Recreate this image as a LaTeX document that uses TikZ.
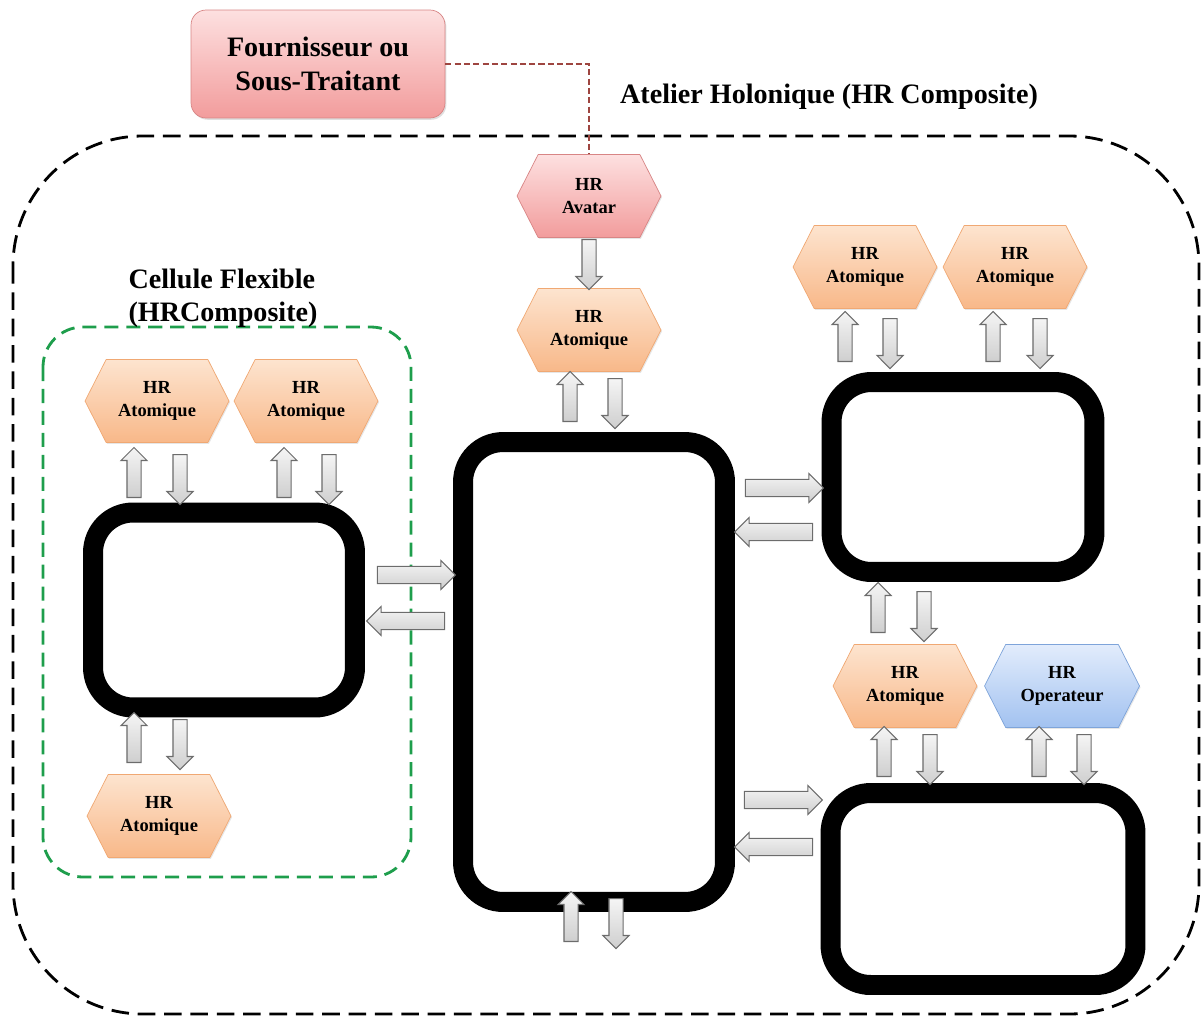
\documentclass[tikz,border=0pt]{standalone}
\usepackage{fontspec}
\setmainfont{Liberation Serif}
\usetikzlibrary{shapes.symbols,shapes.arrows,shadows}

\definecolor{peachtop}{HTML}{FDE4CF}
\definecolor{peachbot}{HTML}{F8B889}
\definecolor{peachline}{HTML}{F0A873}
\definecolor{rosetop}{HTML}{FDE0E0}
\definecolor{rosebot}{HTML}{F29C9C}
\definecolor{roseline}{HTML}{D88585}
\definecolor{bluetop}{HTML}{E2ECFC}
\definecolor{bluebot}{HTML}{A2C2F0}
\definecolor{blueline}{HTML}{7EA4DA}
\definecolor{grenat}{HTML}{9E4540}
\definecolor{vertcellule}{HTML}{1E9E4C}

\tikzset{
  hr/.style={signal, signal to=east and west, signal pointer angle=126,
    minimum width=2.88cm, minimum height=1.66cm, inner sep=0pt, align=center,
    font=\bfseries\fontsize{10.5}{13}\selectfont,
    drop shadow={opacity=0.2, shadow xshift=0.6pt, shadow yshift=-0.8pt}},
  atomique/.style={hr, draw=peachline, top color=peachtop, bottom color=peachbot},
  avatar/.style={hr, draw=roseline, top color=rosetop, bottom color=rosebot},
  operateur/.style={hr, draw=blueline, top color=bluetop, bottom color=bluebot},
  bloc/.style={draw=black, line width=0.4cm, rounded corners=0.8cm, fill=white, inner sep=0pt},
  fleche/.style={single arrow, draw=gray!85!black, top color=gray!8, bottom color=gray!38,
    single arrow head indent=0pt, inner xsep=0pt, line width=0.6pt},
  vfleche/.style={fleche, minimum height=1cm, inner ysep=3.7pt, single arrow head extend=3.4pt},
  hfleche/.style={fleche, minimum height=1.56cm, inner ysep=4.6pt, single arrow head extend=3.3pt},
  titre/.style={font=\bfseries\fontsize{16}{19}\selectfont, inner sep=0pt}
}

\begin{document}
\begin{tikzpicture}[x=0.02cm, y=-0.02cm]
\useasboundingbox (0,0) rectangle (1203,1018);

% atelier (HR composite)
\draw[black, line width=1.6pt, dash pattern=on 10pt off 5pt, rounded corners=2.6cm]
  (13,136) rectangle (1199,1014);
\node[titre] (atelier) at (829,97) {Atelier Holonique (HR Composite)};

% cellule flexible
\draw[vertcellule, line width=1.6pt, dash pattern=on 8pt off 4.5pt, rounded corners=0.8cm]
  (43,327) rectangle (411,877);
\node[titre, align=left] (cellule) at (223,298) {Cellule Flexible\\(HRComposite)};

% fournisseur
\node[draw=roseline, top color=rosetop, bottom color=rosebot, rounded corners=0.3cm,
  minimum width=5.08cm, minimum height=2.16cm, align=center,
  font=\bfseries\fontsize{16}{19}\selectfont,
  drop shadow={opacity=0.25, shadow xshift=0.8pt, shadow yshift=-1pt}]
  (fournisseur) at (318,64) {Fournisseur ou\\Sous-Traitant};

% blocs noirs
\node[bloc, minimum width=5.24cm, minimum height=9.2cm] (centre) at (594,672) {};
\node[bloc, minimum width=5.24cm, minimum height=3.9cm] (celluleBloc) at (224,610) {};
\node[bloc, minimum width=5.26cm, minimum height=3.8cm] (blocHaut) at (963,477) {};
\node[bloc, minimum width=6.1cm, minimum height=3.84cm] (blocBas) at (983,889) {};

% holons
\node[avatar] (avatar) at (589,196) {HR\\Avatar};
\node[atomique] (atomC) at (589,330) {HR\\Atomique};
\node[atomique] (atomL1) at (157,401) {HR\\Atomique};
\node[atomique] (atomL2) at (306,401) {HR\\Atomique};
\node[atomique] (atomL3) at (159,816) {HR\\Atomique};
\node[atomique] (atomR1) at (865,267) {HR\\Atomique};
\node[atomique] (atomR2) at (1015,267) {HR\\Atomique};
\node[atomique] (atomR3) at (905,686) {HR\\Atomique};
\node[operateur, minimum width=3.1cm] (oper) at (1062,686) {HR\\Operateur};

% lien fournisseur -- avatar
\draw[grenat, line width=1.4pt, dash pattern=on 3.5pt off 1.8pt]
  (fournisseur.east) -| (avatar.north);

% fleches verticales
\foreach \x/\y/\r [count=\i] in {589/261/-90, 570/400/90, 615/400/-90, 571/920/90, 616/920/-90,
    134/476/90, 180/476/-90, 284/476/90, 329/476/-90, 134/741/90, 180/741/-90,
    845/340/90, 890/340/-90, 993/340/90, 1040/340/-90, 878/611/90, 924/613/-90,
    884/755/90, 930/756/-90, 1039/755/90, 1084/756/-90}
  \node[vfleche, rotate=\r] (fv\i) at (\x,\y) {};

% fleches horizontales
\foreach \x/\y/\r [count=\i] in {412/575/0, 410/621/180, 780/488/0, 778/532/180,
    779/800/0, 778/847/180}
  \node[hfleche, rotate=\r] (fh\i) at (\x,\y) {};
\end{tikzpicture}
\end{document}
